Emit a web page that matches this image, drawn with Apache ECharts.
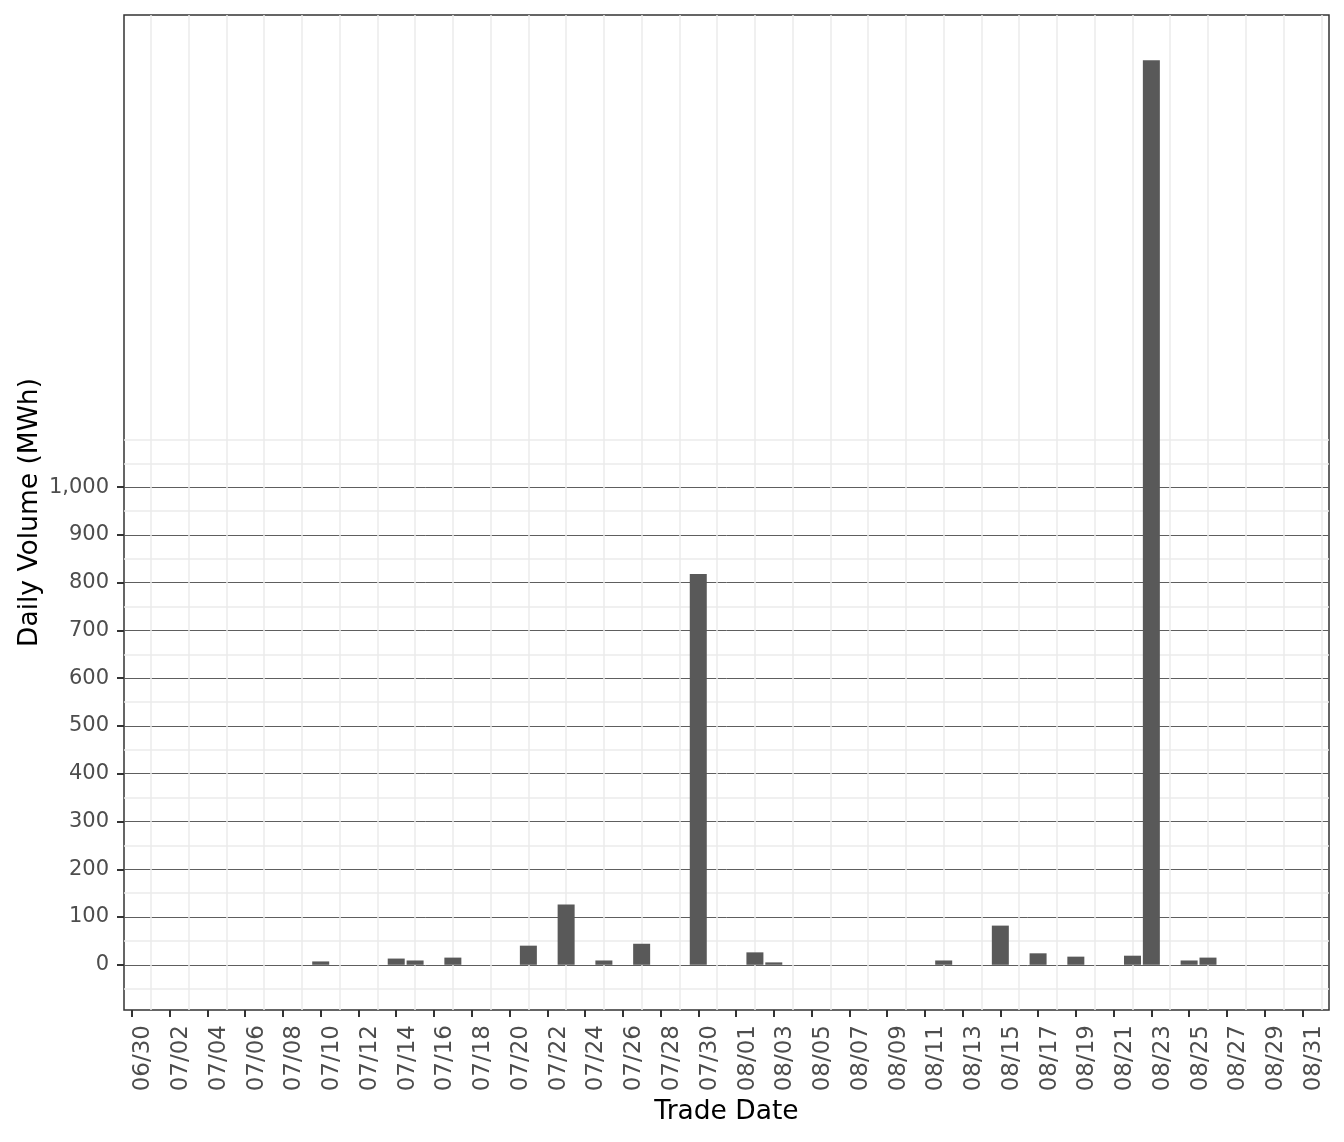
<!DOCTYPE html>
<html>
<head>
<meta charset="utf-8">
<script src="https://cdn.jsdelivr.net/npm/echarts@6/dist/echarts.min.js"></script>
<style>
html,body{margin:0;padding:0;background:#fff;}
#chart{width:1344px;height:1142px;}
</style>
</head>
<body>
<div id="chart"></div>
<script>
// Trade dates (MM/DD) with non-zero volume and their daily volume (MWh)
var tradeDates = ['07/10','07/14','07/15','07/17','07/21','07/23','07/25','07/27','07/30','08/02','08/03','08/12','08/15','08/17','08/19','08/22','08/23','08/25','08/26'];
var dailyVolume = [7, 13, 9, 15, 40, 126, 9, 44, 818, 26, 5, 9, 82, 24, 17, 19, 1894, 9, 15];

// Axis breaks
var startDate = '06/30';
var endDate = '08/31';
var yMajorTicks = [0, 100, 200, 300, 400, 500, 600, 700, 800, 900, 1000];
var yMinorGrid = [-50, 50, 150, 250, 350, 450, 550, 650, 750, 850, 950, 1050, 1100];

function dayIndex(md) {
  var p = md.split('/');
  var s = startDate.split('/');
  return Math.round((Date.UTC(2000, +p[0] - 1, +p[1]) - Date.UTC(2000, +s[0] - 1, +s[1])) / 86400000);
}
function dayLabel(d) {
  var s = startDate.split('/');
  var dt = new Date(Date.UTC(2000, +s[0] - 1, +s[1]) + d * 86400000);
  var m = dt.getUTCMonth() + 1, dd = dt.getUTCDate();
  return (m < 10 ? '0' : '') + m + '/' + (dd < 10 ? '0' : '') + dd;
}
var lastDay = dayIndex(endDate);
var xTicks = [], xMinor = [];
for (var d = 0; d <= lastDay; d += 2) xTicks.push(d);
for (var d2 = 1; d2 <= lastDay + 1; d2 += 2) xMinor.push(d2);

var barData = tradeDates.map(function (t, i) { return [dayIndex(t), dailyVolume[i]]; });

var font = "'DejaVu Sans', 'Liberation Sans', Arial, sans-serif";
var xMin = -0.42, xMax = 63.41, yMin = -94.7, yMax = 1988.7;

var chart = echarts.init(document.getElementById('chart'), null, {renderer: 'canvas'});
chart.setOption({
  animation: false,
  backgroundColor: '#ffffff',
  textStyle: {fontFamily: font},
  grid: {left: 124, right: 15, top: 15, bottom: 132, show: true, borderColor: '#333333', borderWidth: 1.5, backgroundColor: 'transparent'},
  xAxis: [{
    type: 'value', min: xMin, max: xMax, position: 'bottom',
    axisLine: {show: false, onZero: false},
    axisTick: {show: true, customValues: xTicks, length: 7, lineStyle: {color: '#333333', width: 2}},
    axisLabel: {customValues: xTicks, rotate: 90, margin: 15, fontSize: 23, color: '#4d4d4d', fontFamily: font,
      verticalAlign: 'top', formatter: function (v) { return dayLabel(v); }},
    splitLine: {show: false},
    name: 'Trade Date', nameLocation: 'middle', nameGap: 89, nameMoveOverlap: false,
    nameTextStyle: {fontSize: 26.5, color: '#000000', fontFamily: font}
  }, {
    type: 'value', min: xMin, max: xMax, position: 'top',
    axisLine: {show: false, onZero: false},
    axisTick: {show: false, customValues: xMinor},
    axisLabel: {show: false},
    splitLine: {show: true, lineStyle: {color: '#ebebeb', width: 1.5}}
  }],
  yAxis: [{
    type: 'value', min: yMin, max: yMax, position: 'right',
    axisLine: {show: false, onZero: false},
    axisTick: {show: false, customValues: yMinorGrid},
    axisLabel: {show: false},
    splitLine: {show: true, lineStyle: {color: '#ebebeb', width: 1.5}}
  }, {
    type: 'value', min: yMin, max: yMax, position: 'left',
    axisLine: {show: false, onZero: false},
    axisTick: {show: true, customValues: yMajorTicks, length: 7, lineStyle: {color: '#333333', width: 2}},
    axisLabel: {customValues: yMajorTicks, margin: 15, fontSize: 21, color: '#4d4d4d', fontFamily: font,
      formatter: function (v) { return v.toLocaleString('en-US'); }},
    splitLine: {show: true, lineStyle: {color: '#5e5e5e', width: 1}},
    name: 'Daily Volume (MWh)', nameLocation: 'middle', nameGap: 80, nameMoveOverlap: false,
    nameTextStyle: {fontSize: 26.5, color: '#000000', fontFamily: font}
  }],
  series: [{
    type: 'bar', xAxisIndex: 0, yAxisIndex: 1,
    barWidth: 17,
    itemStyle: {color: '#595959'},
    data: barData
  }]
});
</script>
</body>
</html>
